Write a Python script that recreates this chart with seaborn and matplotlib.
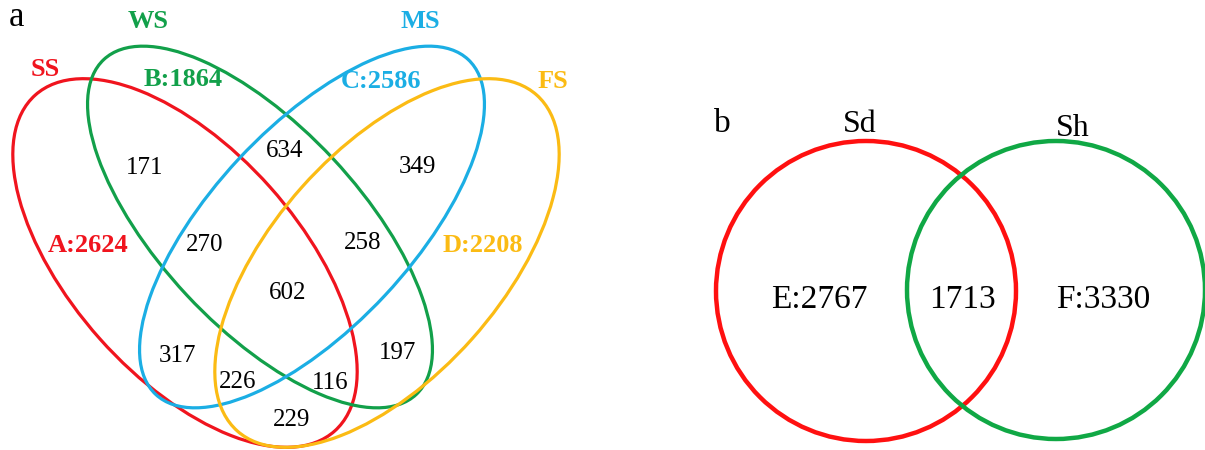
import matplotlib
matplotlib.use('Agg')
import matplotlib.pyplot as plt
from matplotlib.patches import Ellipse, Circle
import seaborn as sns

sns.set_theme(style='white')
plt.rcParams['font.family'] = ['Liberation Serif', 'DejaVu Serif']

# panel a: four sets
set_names = ['SS', 'WS', 'MS', 'FS']
set_letters = ['A', 'B', 'C', 'D']
set_totals = [2624, 1864, 2586, 2208]
set_colors = ['#F0141E', '#12A04A', '#1BAEE4', '#FBBB14']
region_counts = [171, 634, 349, 270, 258, 602, 317, 197, 226, 116, 229]

# panel b: two sets
pair_names = ['Sd', 'Sh']
pair_letters = ['E', 'F']
pair_only = [2767, 3330]
pair_shared = 1713
pair_colors = ['#FF1010', '#10A845']

# layout (pixel space, y down)
ell_geom = [((185, 263), 450, 228, 48.3),
            ((260, 227), 458, 200, 47.0),
            ((312, 227), 458, 200, -47.0),
            ((387, 263), 450, 228, -48.3)]
name_pos = [(45, 70), (148, 22), (420, 22), (553, 81)]
total_pos = [(88, 245), (183, 80), (381, 81), (483, 245)]
region_pos = [(145, 168), (285, 151), (417, 167), (205, 245), (363, 243),
              (288, 293), (178, 356), (398, 353), (238, 382), (330, 383),
              (292, 420)]
circ_geom = [((866, 291), 150), ((1056, 290), 149)]
pair_name_pos = [(860, 124), (1073, 129)]
pair_val_pos = [(819, 300), (1103, 300)]

fig = plt.figure(figsize=(12.05, 4.5), dpi=100)
ax = fig.add_axes([0, 0, 1, 1])
ax.set_xlim(0, 1205)
ax.set_ylim(450, 0)
ax.axis('off')

for (c, w, h, ang), col in zip(ell_geom, set_colors):
    ax.add_patch(Ellipse(c, w, h, angle=ang, fill=False, ec=col, lw=2.3))

for name, letter, tot, col, p, q in zip(set_names, set_letters, set_totals,
                                        set_colors, name_pos, total_pos):
    ax.text(*p, name, color=col, fontsize=19, fontweight='bold', ha='center', va='center')
    ax.text(*q, f'{letter}:{tot}', color=col, fontsize=19, fontweight='bold',
            ha='center', va='center')

for n, p in zip(region_counts, region_pos):
    ax.text(*p, str(n), fontsize=18, color='black', ha='center', va='center')

ax.text(17, 26, 'a', fontsize=25, color='black', ha='center', va='baseline')

# panel b
for (c, r), col in zip(circ_geom, pair_colors):
    ax.add_patch(Circle(c, r, fill=False, ec=col, lw=3.2))

for name, letter, n, p, q in zip(pair_names, pair_letters, pair_only,
                                 pair_name_pos, pair_val_pos):
    ax.text(*p, name, fontsize=23, color='black', ha='center', va='center')
    ax.text(*q, f'{letter}:{n}', fontsize=24, color='black', ha='center', va='center')

ax.text(962, 300, str(pair_shared), fontsize=24, color='black', ha='center', va='center')
ax.text(722, 124, 'b', fontsize=24, color='black', ha='center', va='center')

fig.savefig('out.png', dpi=100)
